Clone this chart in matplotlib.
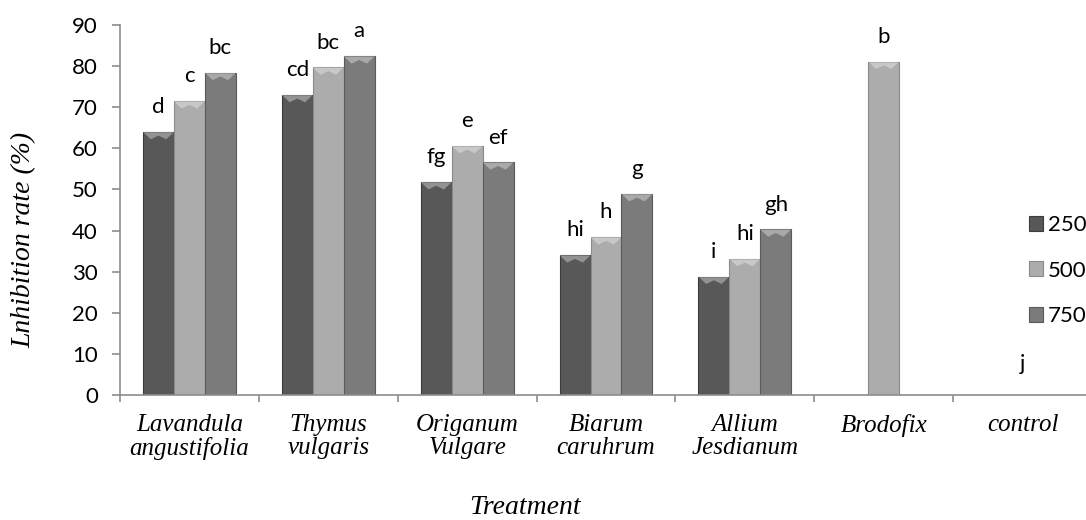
import numpy as np
import matplotlib
matplotlib.use("Agg")
import matplotlib.pyplot as plt

plt.rcParams["font.family"] = ["Lato", "DejaVu Sans"]

# data
categories = ["Lavandula\nangustifolia", "Thymus\nvulgaris", "Origanum\nVulgare",
              "Biarum\ncaruhrum", "Allium\nJesdianum", "Brodofix", "control"]
series_names = ["250", "500", "750"]
v250 = [64.0, 73.0, 51.8, 34.0, 28.8, 0, 0]
v500 = [71.5, 79.7, 60.6, 38.4, 33.1, 81.1, 0]
v750 = [78.4, 82.4, 56.6, 48.9, 40.3, 0, 0]
lab250 = ["d", "cd", "fg", "hi", "i", "", ""]
lab500 = ["c", "bc", "e", "h", "hi", "b", ""]
lab750 = ["bc", "a", "ef", "g", "gh", "", ""]
control_label = "j"

colors = ["#585858", "#acacac", "#7b7b7b"]
edges = ["#3c3c3c", "#8a8a8a", "#5a5a5a"]

fig = plt.figure(figsize=(10.86, 5.2), dpi=100)
ax = fig.add_axes([120 / 1086, 125 / 520, 972 / 1086, 370 / 520])

x = np.arange(len(categories))
w = 0.223
handles = []
for i, (vals, labs) in enumerate(zip([v250, v500, v750], [lab250, lab500, lab750])):
    pos = x + (i - 1) * w
    b = ax.bar(pos, vals, w, color=colors[i], edgecolor=edges[i], linewidth=0.8,
               label=series_names[i])
    handles.append(b)
    for p, v, t in zip(pos, vals, labs):
        if t and v > 0:
            # bevel cap on top of bar
            ax.fill([p - w / 2, p + w / 2, p + w / 2 - w * 0.25, p, p - w / 2 + w * 0.25],
                    [v, v, v - 1.8, v - 0.9, v - 1.8],
                    color="white", alpha=0.35, lw=0)
            ax.annotate(t, (p, v), xytext=(0, 13.5), textcoords="offset points",
                        ha="center", va="baseline", fontsize=16, color="black")

ax.annotate(control_label, (x[-1], 0), xytext=(0, 18), textcoords="offset points",
            ha="center", va="baseline", fontsize=16, color="black")

ax.set_xlim(-0.5, len(categories) - 0.5)
ax.set_ylim(0, 90)
ax.set_yticks(range(0, 91, 10))

for s in ["top", "right"]:
    ax.spines[s].set_visible(False)
for s in ["left", "bottom"]:
    ax.spines[s].set_color("#8c8c8c")
    ax.spines[s].set_linewidth(1.2)

ax.tick_params(axis="y", length=6, width=1.2, color="#8c8c8c", labelsize=16, pad=10)
ax.set_xticks(x)
ax.set_xticklabels(categories, family="Liberation Serif", style="italic",
                   fontsize=18, linespacing=1.05)
ax.set_xticks(np.arange(-0.5, len(categories), 1), minor=True)
ax.tick_params(axis="x", which="major", length=0, pad=14)
ax.tick_params(axis="x", which="minor", length=5, width=1.2, color="#8c8c8c")

ax.set_ylabel("Lnhibition rate (%)", family="Liberation Serif", style="italic",
              fontsize=20)
ax.yaxis.set_label_coords((36 - 120) / 972, (395 - 240) / 370)
fig.text(525 / 1086, 1 - 508 / 520, "Treatment", family="Liberation Serif",
         style="italic", fontsize=20, ha="center", va="center")

fig.legend(handles=handles, labels=series_names, loc="upper left",
           bbox_to_anchor=(1029 / 1086, 1 - 215 / 520), frameon=False,
           fontsize=16, handlelength=0.65, handleheight=0.65, handletextpad=0.2,
           labelspacing=1.15, borderpad=0, borderaxespad=0)

fig.savefig("out.png", dpi=100)
